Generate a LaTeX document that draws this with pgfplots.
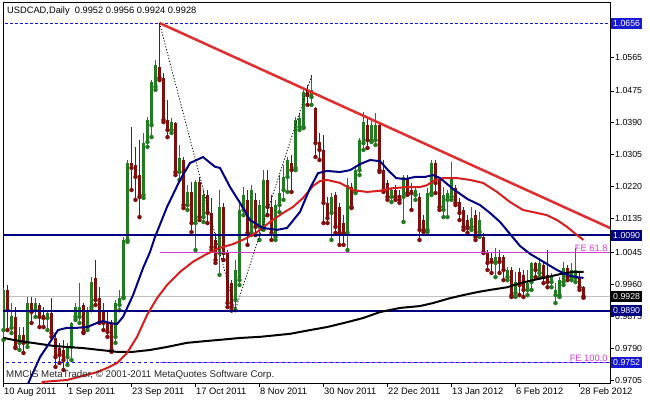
\documentclass[border=0pt]{standalone}
\usepackage{pgfplots}
\usepackage{pgfplotstable}
\usepackage{fontspec}
\setmainfont{Liberation Sans}
\pgfplotsset{compat=1.18}
\definecolor{bullc}{RGB}{34,122,34}
\definecolor{bearc}{RGB}{125,15,15}
\definecolor{navyc}{RGB}{0,0,128}
\definecolor{redma}{RGB}{215,30,30}
\definecolor{trendc}{RGB}{225,45,45}
\definecolor{fec}{RGB}{210,60,210}
\definecolor{hlblue}{RGB}{25,25,210}
\definecolor{bidg}{RGB}{192,192,192}

\pgfplotstableread{
i o h l c
0 0.9838 0.9950 0.9812 0.9945
2 0.9844 0.9910 0.9830 0.9876
4 0.9804 0.9846 0.9785 0.9825
6 0.9804 0.9926 0.9793 0.9910
8 0.9891 0.9923 0.9873 0.9910
11 0.9870 0.9891 0.9838 0.9883
16 0.9766 0.9804 0.9745 0.9793
17 0.9793 0.9859 0.9758 0.9857
18 0.9873 0.9910 0.9865 0.9899
19 0.9873 0.9963 0.9857 0.9899
21 0.9846 0.9899 0.9838 0.9891
22 0.9899 0.9979 0.9891 0.9966
28 0.9820 0.9918 0.9804 0.9910
29 0.9905 0.9945 0.9891 0.9923
30 0.9926 1.0086 0.9923 1.0078
31 1.0078 1.0291 1.0073 1.0283
35 1.0198 1.0363 1.0190 1.0336
36 1.0339 1.0406 1.0326 1.0398
37 1.0384 1.0504 1.0352 1.0499
38 1.0486 1.0557 1.0478 1.0544
42 1.0371 1.0403 1.0363 1.0392
44 1.0259 1.0331 1.0238 1.0296
46 1.0171 1.0224 1.0158 1.0206
48 1.0123 1.0238 1.0051 1.0233
50 1.0139 1.0211 1.0126 1.0198
54 1.0043 1.0211 0.9985 1.0166
58 0.9918 1.0025 0.9891 0.9998
59 0.9971 1.0185 0.9958 1.0158
60 1.0158 1.0219 1.0144 1.0198
62 1.0097 1.0224 1.0091 1.0211
64 1.0113 1.0185 1.0078 1.0171
65 1.0113 1.0264 1.0105 1.0238
68 1.0086 1.0185 1.0078 1.0171
69 1.0171 1.0251 1.0152 1.0203
70 1.0211 1.0278 1.0185 1.0246
71 1.0246 1.0299 1.0206 1.0291
73 1.0270 1.0406 1.0264 1.0398
74 1.0379 1.0416 1.0371 1.0403
75 1.0379 1.0483 1.0376 1.0472
77 1.0459 1.0518 1.0438 1.0478
82 1.0150 1.0203 1.0078 1.0193
86 1.0097 1.0243 1.0051 1.0224
88 1.0206 1.0273 1.0203 1.0264
89 1.0264 1.0350 1.0251 1.0344
90 1.0336 1.0419 1.0318 1.0392
92 1.0344 1.0403 1.0339 1.0384
93 1.0344 1.0416 1.0331 1.0384
97 1.0193 1.0219 1.0179 1.0211
100 1.0193 1.0251 1.0126 1.0246
103 1.0198 1.0219 1.0185 1.0211
106 1.0105 1.0216 1.0099 1.0203
107 1.0203 1.0291 1.0198 1.0283
110 1.0158 1.0219 1.0139 1.0198
111 1.0185 1.0211 1.0139 1.0203
112 1.0193 1.0286 1.0185 1.0246
117 1.0113 1.0166 1.0105 1.0136
119 1.0099 1.0152 1.0086 1.0131
123 1.0017 1.0057 0.9979 1.0033
126 0.9979 1.0006 0.9971 0.9998
128 0.9937 0.9993 0.9926 0.9966
131 0.9945 0.9998 0.9931 0.9963
132 0.9966 1.0020 0.9945 1.0017
134 0.9990 1.0030 0.9979 1.0017
137 0.9966 0.9990 0.9952 0.9979
138 0.9931 0.9963 0.9910 0.9945
139 0.9931 0.9979 0.9926 0.9971
140 0.9966 1.0020 0.9958 1.0003
142 0.9979 1.0017 0.9971 0.9998
143 0.9977 1.0057 0.9966 0.9998
}\bull

\pgfplotstableread{
i o h l c
1 0.9945 0.9958 0.9838 0.9891
3 0.9873 0.9899 0.9790 0.9793
5 0.9825 0.9846 0.9777 0.9804
7 0.9910 0.9926 0.9857 0.9886
9 0.9905 0.9910 0.9846 0.9873
10 0.9878 0.9899 0.9846 0.9870
12 0.9883 0.9923 0.9820 0.9830
13 0.9817 0.9825 0.9740 0.9766
14 0.9790 0.9804 0.9750 0.9772
15 0.9785 0.9812 0.9732 0.9758
20 0.9905 0.9910 0.9830 0.9833
23 0.9977 1.0025 0.9905 0.9918
24 0.9923 0.9952 0.9857 0.9859
25 0.9891 0.9910 0.9838 0.9857
26 0.9859 0.9891 0.9820 0.9833
27 0.9857 0.9865 0.9780 0.9785
32 1.0283 1.0379 1.0211 1.0270
33 1.0278 1.0326 1.0185 1.0246
34 1.0251 1.0344 1.0139 1.0193
39 1.0539 1.0656 1.0504 1.0510
40 1.0510 1.0523 1.0392 1.0398
41 1.0398 1.0451 1.0352 1.0371
43 1.0390 1.0392 1.0251 1.0259
45 1.0291 1.0299 1.0163 1.0171
47 1.0206 1.0233 1.0099 1.0123
49 1.0233 1.0246 1.0131 1.0139
51 1.0198 1.0211 1.0123 1.0150
52 1.0150 1.0190 1.0051 1.0059
53 1.0078 1.0097 1.0017 1.0025
55 1.0166 1.0177 1.0025 1.0043
56 1.0043 1.0051 0.9899 0.9910
57 0.9963 0.9971 0.9890 0.9899
61 1.0185 1.0211 1.0065 1.0097
63 1.0185 1.0203 1.0091 1.0113
66 1.0238 1.0264 1.0144 1.0166
67 1.0166 1.0198 1.0078 1.0097
72 1.0283 1.0304 1.0206 1.0264
76 1.0478 1.0491 1.0438 1.0464
78 1.0430 1.0432 1.0299 1.0336
79 1.0339 1.0363 1.0291 1.0318
80 1.0318 1.0358 1.0123 1.0177
81 1.0177 1.0193 1.0123 1.0136
83 1.0198 1.0206 1.0097 1.0113
84 1.0166 1.0177 1.0065 1.0097
85 1.0123 1.0144 1.0065 1.0097
87 1.0219 1.0230 1.0163 1.0166
91 1.0384 1.0403 1.0323 1.0344
94 1.0384 1.0390 1.0259 1.0264
95 1.0264 1.0291 1.0206 1.0211
96 1.0230 1.0238 1.0185 1.0193
98 1.0211 1.0224 1.0185 1.0193
99 1.0198 1.0211 1.0177 1.0185
101 1.0243 1.0251 1.0198 1.0203
102 1.0211 1.0230 1.0158 1.0203
104 1.0193 1.0203 1.0078 1.0105
105 1.0131 1.0144 1.0099 1.0105
108 1.0283 1.0291 1.0203 1.0230
109 1.0238 1.0246 1.0158 1.0166
113 1.0216 1.0224 1.0171 1.0177
114 1.0179 1.0190 1.0131 1.0150
115 1.0158 1.0166 1.0105 1.0113
116 1.0131 1.0144 1.0097 1.0110
118 1.0144 1.0158 1.0078 1.0086
120 1.0086 1.0097 1.0043 1.0046
121 1.0046 1.0051 0.9998 1.0017
122 1.0030 1.0043 0.9990 1.0020
124 1.0033 1.0051 0.9990 1.0020
125 1.0033 1.0038 0.9971 0.9998
127 0.9998 1.0006 0.9926 0.9931
129 0.9993 1.0003 0.9931 0.9958
130 0.9985 0.9998 0.9926 0.9945
133 1.0017 1.0020 0.9979 0.9998
135 1.0011 1.0017 0.9963 0.9979
136 0.9985 1.0051 0.9952 0.9966
141 1.0003 1.0011 0.9971 0.9979
144 0.9979 0.9993 0.9945 0.9952
145 0.9952 0.9956 0.9924 0.9928
}\bear

\begin{document}
\begin{tikzpicture}[font=\fontsize{9.3bp}{11bp}\selectfont]
\path[use as bounding box] (0,0) rectangle (650bp,400bp);
\begin{axis}[
  at={(3bp,17bp)}, anchor=south west,
  scale only axis, width=607bp, height=381bp,
  xmin=-0.125, xmax=151.625, ymin=0.9697, ymax=1.0712,
  axis line style={black, line width=0.8bp},
  tick style={black, line width=0.8bp},
  tick align=outside, major tick length=4bp,
  xtick pos=bottom, ytick pos=right, yticklabel pos=right,
  scaled y ticks=false,
  xtick={0,16,32,48,64,80,96,112,128,144},
  xticklabels={10 Aug 2011,1 Sep 2011,23 Sep 2011,17 Oct 2011,8 Nov 2011,30 Nov 2011,22 Dec 2011,13 Jan 2012,6 Feb 2012,28 Feb 2012},
  ytick={0.9705,0.9790,0.9875,0.9960,1.0045,1.0135,1.0220,1.0305,1.0390,1.0475,1.0565},
  yticklabels={0.9705,0.9790,0.9875,0.9960,1.0045,1.0135,1.0220,1.0305,1.0390,1.0475,1.0565},
  xticklabel style={anchor=north west, inner sep=0pt, xshift=0.5bp, yshift=-1bp, font=\fontsize{9.3bp}{11bp}\selectfont},
  yticklabel style={anchor=west, inner sep=0pt, xshift=1bp, font=\fontsize{8.8bp}{11bp}\selectfont},
  clip mode=individual,
]
% bid line
\addplot[bidg, line width=1bp] coordinates {(-1,0.9928) (153,0.9928)};
% candles: wicks and bodies
\addplot[bullc, only marks, mark=none, error bars/.cd, y dir=plus, y explicit, error mark=none,
  error bar style={draw=bullc, line width=1bp}]
  table[x=i, y=l, y error plus expr=\thisrow{h}-\thisrow{l}] {\bull};
\addplot[bearc, only marks, mark=none, error bars/.cd, y dir=plus, y explicit, error mark=none,
  error bar style={draw=bearc, line width=1bp}]
  table[x=i, y=l, y error plus expr=\thisrow{h}-\thisrow{l}] {\bear};
\addplot[bullc, only marks, mark=none, error bars/.cd, y dir=plus, y explicit, error mark=none,
  error bar style={draw=bullc, line width=3bp}]
  table[x=i, y=o, y error plus expr=\thisrow{c}-\thisrow{o}] {\bull};
\addplot[bearc, only marks, mark=none, error bars/.cd, y dir=plus, y explicit, error mark=none,
  error bar style={draw=bearc, line width=3bp}]
  table[x=i, y=c, y error plus expr=\thisrow{o}-\thisrow{c}] {\bear};
% horizontal levels
\addplot[navyc, line width=2bp] coordinates {(-1,1.0090) (153,1.0090)};
\addplot[navyc, line width=2bp] coordinates {(-1,0.9890) (153,0.9890)};
\addplot[hlblue, line width=1bp, dash pattern=on 3bp off 2bp] coordinates {(-1,1.0656) (153,1.0656)};
\addplot[fec, line width=1bp] coordinates {(39,1.0045) (153,1.0045)};
\addplot[fec, line width=1bp] coordinates {(39,0.9752) (153,0.9752)};
\addplot[hlblue, line width=1bp, dash pattern=on 3bp off 3bp] coordinates {(-1,0.9752) (153,0.9752)};
% moving averages
\addplot[black, line width=2bp] coordinates {
(-0.375,0.9818) (2.38,0.9812) (5.88,0.9806) (9.13,0.9801) (12.38,0.9796) (15.88,0.9793)
(19.88,0.9790) (24.13,0.9785) (28.38,0.9780) (32.38,0.9780) (36.63,0.9785) (40.88,0.9793)
(45.88,0.9804) (50.88,0.9809) (54.13,0.9812) (59.13,0.9817) (64.13,0.9820) (71.63,0.9828)
(76.63,0.9838) (80.88,0.9846) (85.88,0.9859) (89.88,0.9870) (94.13,0.9886) (99.13,0.9897)
(104.13,0.9902) (107.38,0.9910) (111.63,0.9923) (114.88,0.9931) (118.38,0.9939) (121.63,0.9945)
(125.88,0.9952) (129.13,0.9963) (132.38,0.9971) (135.88,0.9979) (139.13,0.9987) (142.38,0.9993)
(145,0.9993)};
\addplot[redma, line width=2bp] coordinates {
(9.13,0.9689) (9.88,0.9700) (15.88,0.9705) (19.88,0.9716) (23.38,0.9726) (25.88,0.9737)
(28.38,0.9750) (30.88,0.9777) (33.38,0.9820) (35.88,0.9878) (38.38,0.9923) (40.88,0.9958)
(44.13,0.9993) (47.38,1.0020) (50.88,1.0041) (54.13,1.0057) (57.38,1.0067) (60.38,1.0081)
(63.38,1.0099) (66.63,1.0126) (69.88,1.0150) (72.38,1.0166) (74.88,1.0190) (77.38,1.0222)
(79.13,1.0235) (80.88,1.0238) (84.13,1.0230) (87.38,1.0211) (90.88,1.0206) (94.13,1.0209)
(97.38,1.0216) (100.88,1.0219) (104.13,1.0219) (105.88,1.0224) (107.38,1.0235) (109.88,1.0243)
(113.38,1.0243) (116.63,1.0238) (119.88,1.0230) (123.38,1.0206) (126.63,1.0179) (129.88,1.0158)
(133.38,1.0150) (135.88,1.0144) (138.38,1.0131) (140.88,1.0113) (143.38,1.0091) (145,1.0078)};
\addplot[navyc, line width=2bp] coordinates {
(5.88,0.9689) (9.13,0.9766) (11.63,0.9806) (13.63,0.9838) (15.88,0.9844) (18.38,0.9844)
(20.88,0.9846) (23.38,0.9857) (24.88,0.9862) (26.63,0.9857) (28.38,0.9854) (29.88,0.9873)
(32.38,0.9931) (34.88,1.0003) (36.63,1.0046) (37.88,1.0086) (40.88,1.0166) (44.13,1.0238)
(46.63,1.0283) (49.88,1.0299) (52.88,1.0273) (54.13,1.0270) (56.63,1.0219) (59.13,1.0177)
(61.63,1.0131) (64.88,1.0110) (68.38,1.0105) (70.88,1.0110) (74.13,1.0153) (76.63,1.0216)
(78.63,1.0256) (80.88,1.0262) (84.13,1.0259) (86.63,1.0264) (89.13,1.0280) (91.63,1.0291)
(94.13,1.0288) (96.13,1.0264) (98.13,1.0243) (100.38,1.0240) (102.88,1.0246) (105.38,1.0246)
(107.38,1.0251) (109.13,1.0243) (112.38,1.0214) (116,1.0187) (119.13,1.0171) (121.63,1.0150)
(124.13,1.0126) (126.63,1.0094) (129.13,1.0062) (131.63,1.0041) (133.38,1.0030) (135.88,1.0014)
(138.38,0.9998) (140.88,0.9985) (143.38,0.9979) (145,0.9977)};
% trend line and zigzag
\addplot[trendc, line width=2.5bp] coordinates {(39,1.0656) (151.625,1.0110)};
\addplot[black, line width=0.8bp, dash pattern=on 1.2bp off 1.8bp] coordinates {(39,1.0656) (57.9,0.9890) (77.1,1.0518)};
% labels
\node[anchor=south east, text=fec, inner sep=1bp, font=\fontsize{9.3bp}{11bp}\selectfont] at (axis cs:151.3,1.0045) {FE 61.8};
\node[anchor=south east, text=fec, inner sep=1bp, font=\fontsize{9.3bp}{11bp}\selectfont] at (axis cs:151.3,0.9752) {FE 100.0};
\coordinate (b1) at (axis cs:151.625,1.0656);
\coordinate (b2) at (axis cs:151.625,1.0090);
\coordinate (b3) at (axis cs:151.625,0.9928);
\coordinate (b4) at (axis cs:151.625,0.9890);
\coordinate (b5) at (axis cs:151.625,0.9752);
\end{axis}
\tikzset{pbox/.style={anchor=west, text=white, inner xsep=2bp, inner ysep=1.5bp, minimum height=11bp, font=\fontsize{8.8bp}{11bp}\selectfont}}
\node[pbox, fill=hlblue] at ([xshift=1bp]b1) {1.0656};
\node[pbox, fill=navyc] at ([xshift=1bp]b2) {1.0090};
\node[pbox, fill=black] at ([xshift=1bp]b3) {0.9928};
\node[pbox, fill=navyc] at ([xshift=1bp]b4) {0.9890};
\node[pbox, fill=hlblue] at ([xshift=1bp]b5) {0.9752};
\node[anchor=west, inner sep=0pt] at (7bp,389bp) {USDCAD,Daily\ \ 0.9952 0.9956 0.9924 0.9928};
\node[anchor=west, inner sep=0pt, text=black!85, font=\fontsize{9.7bp}{11bp}\selectfont] at (6bp,25bp) {MMCIS MetaTrader, © 2001-2011 MetaQuotes Software Corp.};
\end{tikzpicture}
\end{document}
